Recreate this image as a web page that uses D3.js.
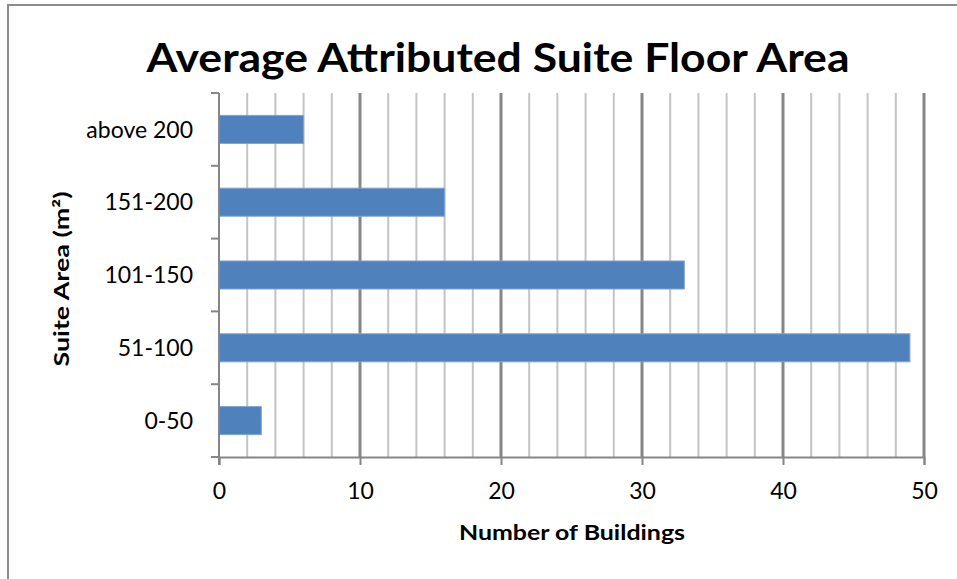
<!DOCTYPE html>
<html lang="en">
<head>
    <meta charset="UTF-8">
    <title>Average Attributed Suite Floor Area</title>
    <style>
        body { margin: 0; background: #fff; }
        text { font-family: Lato, "Open Sans", sans-serif; fill: #000; }
    </style>
</head>
<body>
    <svg width="957" height="579" id="svg"></svg>
    <script src="https://d3js.org/d3.v7.min.js"></script>
    <script>
        // data
        const categories = ["above 200", "151-200", "101-150", "51-100", "0-50"]
        const values = [6, 16, 33, 49, 3]
        const xTicks = [0, 10, 20, 30, 40, 50]
        const minorTicks = d3.range(0, 51, 2)

        const svg = d3.select("svg#svg")
        const plot = { left: 219, right: 924, top: 93, bottom: 457 }

        // outer frame (top and left only visible)
        svg.append("path")
            .attr("d", "M8,579 V5 H957")
            .attr("fill", "none")
            .attr("stroke", "#8c8c8c")
            .attr("stroke-width", 2)

        const xScale = d3.scaleLinear().domain([0, 50]).range([plot.left, plot.right])
        const yScale = d3.scaleBand().domain(categories).range([plot.top, plot.bottom])
            .paddingInner(0.615).paddingOuter(0.3075)

        // minor grid
        svg.append("g").selectAll("line")
            .data(minorTicks.filter(d => d % 10 !== 0))
            .join("line")
            .attr("x1", d => xScale(d)).attr("x2", d => xScale(d))
            .attr("y1", plot.top).attr("y2", plot.bottom)
            .attr("stroke", "#c4c4c4").attr("stroke-width", 2)

        // major grid
        svg.append("g").selectAll("line")
            .data(xTicks.filter(d => d > 0))
            .join("line")
            .attr("x1", d => xScale(d)).attr("x2", d => xScale(d))
            .attr("y1", plot.top).attr("y2", plot.bottom)
            .attr("stroke", "#868686").attr("stroke-width", 3)

        // bars
        svg.append("g").selectAll("rect")
            .data(categories)
            .join("rect")
            .attr("x", xScale(0))
            .attr("y", d => yScale(d))
            .attr("width", (d, i) => xScale(values[i]) - xScale(0))
            .attr("height", yScale.bandwidth())
            .attr("fill", "#4f81bd")
            .attr("stroke", "#7fa3d3")
            .attr("stroke-width", 1)

        // x axis
        const xAxis = svg.append("g")
            .attr("transform", `translate(0, ${plot.bottom})`)
            .call(d3.axisBottom(xScale).tickValues(xTicks).tickSize(8).tickPadding(18))
        xAxis.select(".domain").attr("stroke", "#868686").attr("stroke-width", 2)
        xAxis.selectAll(".tick line").attr("stroke", "#868686").attr("stroke-width", 2)
        xAxis.selectAll(".tick text")
            .style("font-size", "23px").style("font-family", "Lato, sans-serif")

        // y axis: ticks at category boundaries
        const bounds = d3.range(categories.length + 1).map(i => plot.top + i * (plot.bottom - plot.top) / categories.length)
        const yAxis = svg.append("g")
        yAxis.append("line")
            .attr("x1", plot.left).attr("x2", plot.left)
            .attr("y1", plot.top).attr("y2", plot.bottom + 8)
            .attr("stroke", "#868686").attr("stroke-width", 2)
        yAxis.selectAll(".ytick")
            .data(bounds)
            .join("line")
            .attr("class", "ytick")
            .attr("x1", plot.left - 8).attr("x2", plot.left)
            .attr("y1", d => d).attr("y2", d => d)
            .attr("stroke", "#868686").attr("stroke-width", 2)
        yAxis.selectAll("text")
            .data(categories)
            .join("text")
            .attr("x", 193)
            .attr("y", d => yScale(d) + yScale.bandwidth() / 2)
            .attr("dy", "0.36em")
            .attr("text-anchor", "end")
            .style("font-size", "23px")
            .text(d => d)

        // title
        svg.append("text")
            .attr("x", 498).attr("y", 72)
            .attr("text-anchor", "middle")
            .attr("textLength", 703).attr("lengthAdjust", "spacingAndGlyphs")
            .style("font-size", "41px").style("font-weight", "bold")
            .text("Average Attributed Suite Floor Area")

        // axis titles
        svg.append("text")
            .attr("x", 572).attr("y", 540)
            .attr("text-anchor", "middle")
            .attr("textLength", 226).attr("lengthAdjust", "spacingAndGlyphs")
            .style("font-size", "21px").style("font-weight", "bold")
            .text("Number of Buildings")

        svg.append("text")
            .attr("transform", "translate(69, 279) rotate(-90)")
            .attr("text-anchor", "middle")
            .attr("textLength", 175).attr("lengthAdjust", "spacingAndGlyphs")
            .style("font-size", "21px").style("font-weight", "bold")
            .text("Suite Area (m²)")
    </script>
</body>
</html>
